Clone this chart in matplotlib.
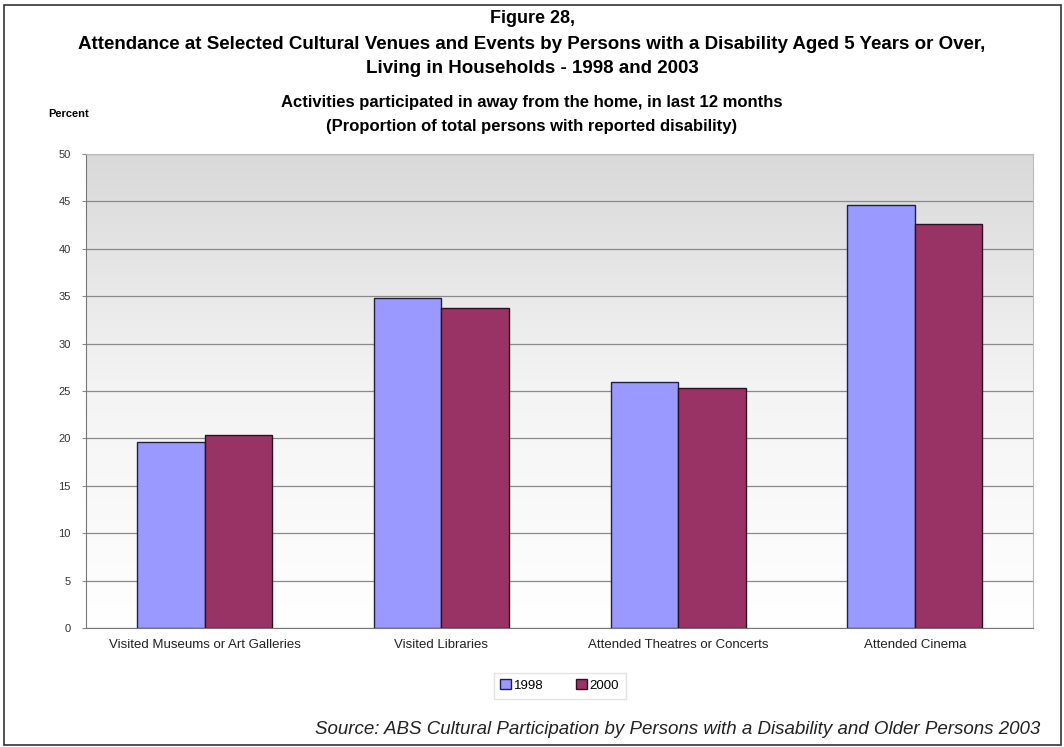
import numpy as np
import matplotlib.pyplot as plt
from matplotlib.colors import LinearSegmentedColormap
from matplotlib.patches import Rectangle

categories = ['Visited Museums or Art Galleries', 'Visited Libraries',
              'Attended Theatres or Concerts', 'Attended Cinema']
series_names = ['1998', '2000']
values_1998 = [19.6, 34.8, 26.0, 44.6]
values_2000 = [20.4, 33.8, 25.3, 42.6]
yticks = [0, 5, 10, 15, 20, 25, 30, 35, 40, 45, 50]

plt.rcParams.update({
    'font.family': ['Liberation Sans', 'DejaVu Sans'],
    'font.size': 8,
})

fig = plt.figure(figsize=(10.64, 7.47), dpi=100)
ax = fig.add_axes([0.081, 0.159, 0.890, 0.635])

# grey at top fading to white at the bottom of the plot area
grad = np.linspace(0, 1, 256).reshape(-1, 1)
bg_cmap = LinearSegmentedColormap.from_list('bg', ['#ffffff', '#f4f4f4', '#d9d9d9'])
ax.imshow(grad, extent=[-0.5, len(categories) - 0.5, 0, 50], aspect='auto',
          cmap=bg_cmap, origin='lower', zorder=0)

x = np.arange(len(categories))
bar_width = 0.285
ax.bar(x - bar_width / 2, values_1998, bar_width, color='#9999ff',
       edgecolor='#202040', linewidth=1.0, label=series_names[0], zorder=3)
ax.bar(x + bar_width / 2, values_2000, bar_width, color='#993366',
       edgecolor='#301020', linewidth=1.0, label=series_names[1], zorder=3)

ax.set_xlim(-0.5, len(categories) - 0.5)
ax.set_ylim(0, 50)
ax.set_yticks(yticks)
ax.set_yticklabels([str(t) for t in yticks], color='#333333', fontsize=8)
ax.set_xticks(x)
ax.set_xticklabels(categories, color='#222222', fontsize=9.5)
ax.tick_params(axis='x', length=0, pad=8)
ax.tick_params(axis='y', length=3, color='#888888', pad=8)
ax.yaxis.grid(True, color='#8a8a8a', linewidth=0.9, zorder=1)
ax.set_axisbelow(True)
for side in ['top', 'right']:
    ax.spines[side].set_color('#bbbbbb')
for side in ['left', 'bottom']:
    ax.spines[side].set_color('#777777')

leg = ax.legend(loc='upper center', bbox_to_anchor=(0.5, -0.08), ncol=2,
                frameon=True, fontsize=9.5, handlelength=0.8, handleheight=0.8,
                handletextpad=0.2, columnspacing=2.5, borderpad=0.5,
                fancybox=False)
leg.get_frame().set_edgecolor('#dddddd')

fig.text(0.5, 0.975, 'Figure 28,', ha='center', va='center',
         fontsize=13, fontweight='bold')
fig.text(0.5, 0.941, 'Attendance at Selected Cultural Venues and Events by Persons with a '
         'Disability Aged 5 Years or Over,', ha='center', va='center',
         fontsize=13.5, fontweight='bold')
fig.text(0.5, 0.908, 'Living in Households - 1998 and 2003', ha='center',
         va='center', fontsize=13.5, fontweight='bold')
fig.text(0.5, 0.863, 'Activities participated in away from the home, in last 12 months',
         ha='center', va='center', fontsize=12, fontweight='bold')
fig.text(0.5, 0.830, '(Proportion of total persons with reported disability)',
         ha='center', va='center', fontsize=12, fontweight='bold')
fig.text(0.045, 0.848, 'Percent', ha='left', va='center', fontsize=8,
         fontweight='bold')
fig.text(0.978, 0.023, 'Source: ABS Cultural Participation by Persons with a '
         'Disability and Older Persons 2003', ha='right', va='center',
         fontsize=13.5, fontstyle='italic', color='#222222')

fig.patches.append(Rectangle((0.004, 0.003), 0.993, 0.99, transform=fig.transFigure,
                             fill=False, edgecolor='#333333', linewidth=1.2))

fig.savefig('out.png', dpi=100)
